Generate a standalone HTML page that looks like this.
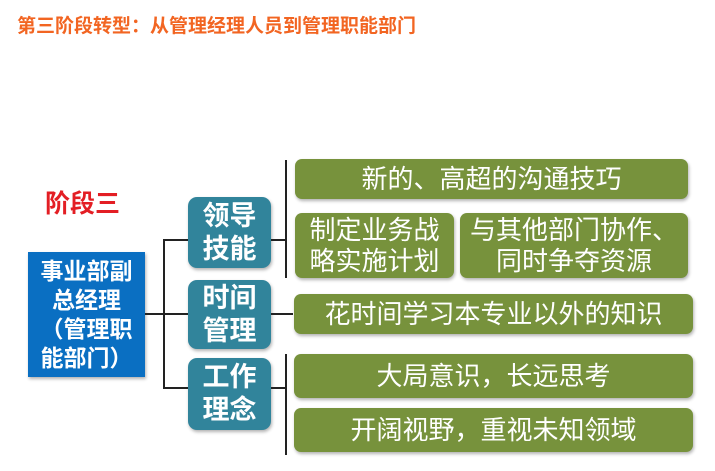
<!DOCTYPE html>
<html><head><meta charset="utf-8"><style>
body{margin:0;width:715px;height:471px;background:#fff;position:relative;overflow:hidden;font-family:"Liberation Sans","Noto Sans CJK SC",sans-serif}
.a{position:absolute}
.g{position:absolute;background:#77923c;border-radius:7px;color:#fff;font-size:26px;display:flex;align-items:center;justify-content:center;text-align:center;line-height:31px;box-shadow:1px 2px 3px rgba(0,0,0,.3)}
.t{position:absolute;background:#31849b;border-radius:9px;color:#fff;font-size:27px;font-weight:bold;display:flex;align-items:center;justify-content:center;text-align:center;line-height:33px;box-shadow:1px 2px 3px rgba(0,0,0,.3)}
.l{position:absolute;background:#222}
</style></head><body>
<div class="a" style="left:17px;top:11px;font-size:19px;font-weight:bold;color:#f26522;white-space:nowrap">第三阶段转型：从管理经理人员到管理职能部门</div>
<div class="a" style="left:45px;top:184px;font-size:25px;font-weight:bold;color:#e31e24">阶段三</div>
<div class="a" style="left:28px;top:252px;width:117px;height:125px;background:#0a6fc2;color:#fff;font-size:23px;font-weight:bold;line-height:29px;text-align:center;display:flex;align-items:center;justify-content:center;box-shadow:1px 2px 3px rgba(0,0,0,.3)">事业部副<br>总经理<br>（管理职<br>能部门）</div>
<div class="l" style="left:145px;top:313px;width:44px;height:2px"></div>
<div class="l" style="left:163px;top:240px;width:2px;height:149px"></div>
<div class="l" style="left:163px;top:239px;width:25px;height:2px"></div>
<div class="l" style="left:163px;top:387px;width:25px;height:2px"></div>
<div class="t" style="left:188px;top:197px;width:83px;height:71px">领导<br>技能</div>
<div class="t" style="left:188px;top:280px;width:83px;height:69px">时间<br>管理</div>
<div class="t" style="left:188px;top:358px;width:83px;height:72px">工作<br>理念</div>
<div class="l" style="left:271px;top:239px;width:16px;height:2px"></div>
<div class="l" style="left:271px;top:313px;width:22px;height:2px"></div>
<div class="l" style="left:271px;top:387px;width:16px;height:2px"></div>
<div class="l" style="left:285px;top:160px;width:2px;height:118px"></div>
<div class="l" style="left:285px;top:354px;width:2px;height:101px"></div>
<div class="g" style="left:295px;top:159px;width:393px;height:40px">新的、高超的沟通技巧</div>
<div class="g" style="left:295px;top:213px;width:159px;height:65px">制定业务战<br>略实施计划</div>
<div class="g" style="left:460px;top:213px;width:228px;height:65px">与其他部门协作、<br>同时争夺资源</div>
<div class="g" style="left:294px;top:294px;width:399px;height:40px">花时间学习本专业以外的知识</div>
<div class="g" style="left:294px;top:354px;width:399px;height:44px">大局意识，长远思考</div>
<div class="g" style="left:294px;top:408px;width:399px;height:44px">开阔视野，重视未知领域</div>
</body></html>
